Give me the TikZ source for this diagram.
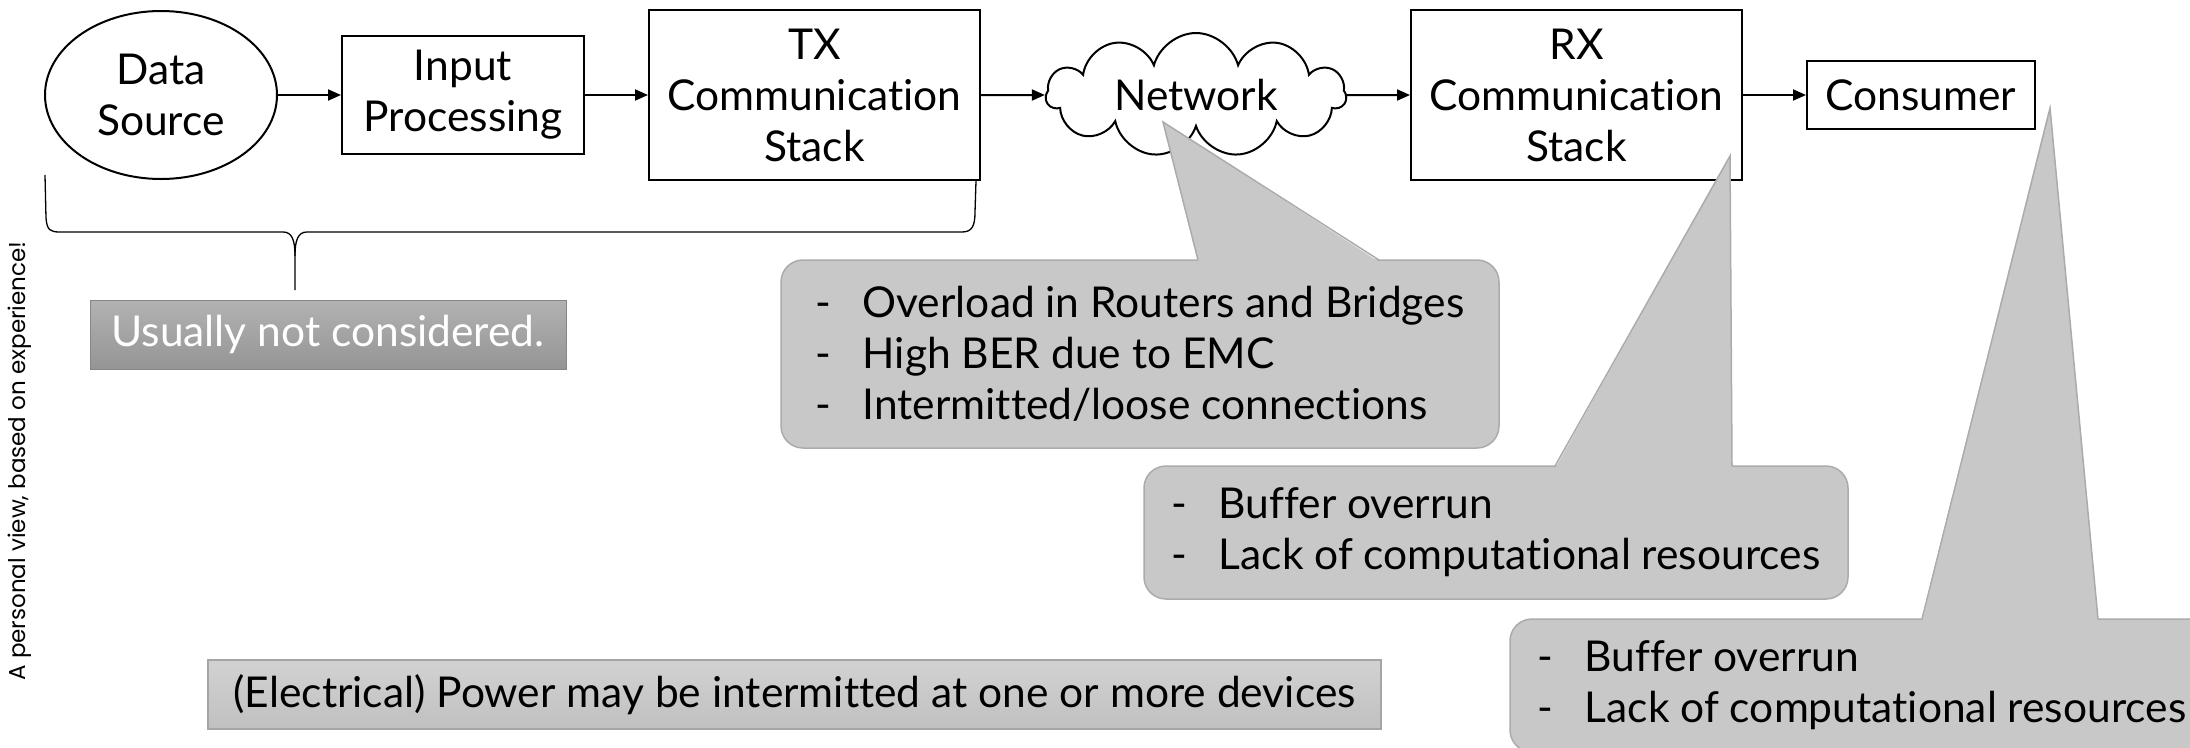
\documentclass[tikz,border=0pt]{standalone}
\usepackage{fontspec}
\setmainfont{Lato}[Ligatures={NoCommon}]
\newfontfamily\popfont{Poppins}
\usetikzlibrary{shapes.geometric,shapes.symbols,arrows.meta,calc}
\definecolor{callfill}{HTML}{C8C8C8}
\definecolor{callline}{HTML}{ABABAB}
\definecolor{ustop}{HTML}{B2B2B2}
\definecolor{usbot}{HTML}{959595}
\definecolor{pwtop}{HTML}{D2D2D2}
\definecolor{pwbot}{HTML}{C0C0C0}
\definecolor{pwline}{HTML}{A5A5A5}
\newcommand\itm{\makebox[47pt][l]{-}}
\tikzset{
  blk/.style={draw=black, line width=2, align=center, inner sep=0},
  arr/.style={line width=2, -{Triangle[length=13pt,width=11pt]}},
  callbox/.style={draw=callline, line width=1.5, fill=callfill, rounded corners=22, align=left, inner sep=0},
  ptrfill/.style={fill=callfill},
  ptrline/.style={draw=callline, line width=1.5},
}
\begin{document}
\begin{tikzpicture}[x=1pt,y=-1pt, font=\fontsize{42.5}{51}\selectfont]
\clip (0,0) rectangle (2190,747);
\fill[white] (0,0) rectangle (2190,747);

% main chain
\node[blk, ellipse, minimum width=232, minimum height=168] (ds) at (161,95) {Data\\Source};
\node[blk, rectangle, minimum width=242, minimum height=118] (ip) at (463,95) {Input\\Processing};
\node[blk, rectangle, minimum width=331, minimum height=170] (tx) at (814.5,95) {TX\\Communication\\Stack};
\node[blk, cloud, cloud puffs=11, aspect=3, minimum width=300, minimum height=99] (net) at (1196,95) {Network};
\node[blk, rectangle, minimum width=331, minimum height=170] (rx) at (1576.5,95) {RX\\Communication\\Stack};
\node[blk, rectangle, minimum width=228, minimum height=68] (con) at (1921,95) {Consumer};

\draw[arr] (ds) -- (ip);
\draw[arr] (ip) -- (tx);
\draw[arr] (tx) -- (net);
\draw[arr] (net) -- (rx);
\draw[arr] (rx) -- (con);

% brace
\draw[line width=1.3] (45,175) -- (46,218) .. controls (47,230) and (50,232) .. (60,232)
  -- (283,232) .. controls (292,232) and (295,240) .. (295,256) -- (295,290);
\draw[line width=1.3] (295,256) .. controls (295,240) and (298,232) .. (307,232)
  -- (962,232) .. controls (972,232) and (975,226) .. (975,212) -- (976,181);

\node[draw=usbot!90!black, line width=1, top color=ustop, bottom color=usbot, minimum width=476, minimum height=69, inner sep=0, text=white] (us) at (328,334.5) {Usually not considered.};

% callouts
\node[callbox, minimum width=718, minimum height=188] (c1) at (1140,354) {\itm Overload in Routers and Bridges\\\itm High BER due to EMC\\\itm Intermitted/loose connections};
\coordinate (t1) at (1163,122);
\fill[ptrfill] (1198.5,262.5) -- (t1) -- (1380,262.5) -- cycle;
\draw[ptrline] (1198,260) -- (t1) -- (1379,260);

\node[callbox, minimum width=704, minimum height=133] (c2) at (1496,532.5) {\itm Buffer overrun\\\itm Lack of computational resources};
\coordinate (t2) at (1730,156);
\fill[ptrfill] (1555,468.5) -- (t2) -- (1732,468.5) -- cycle;
\draw[ptrline] (1555,466) -- (t2) -- (1732,466);

\node[callbox, minimum width=704, minimum height=133] (c3) at (1862,685.5) {\itm Buffer overrun\\\itm Lack of computational resources};
\coordinate (t3) at (2050,108);
\fill[ptrfill] (1922,621.5) -- (t3) -- (2098,621.5) -- cycle;
\draw[ptrline] (1922,619) -- (t3) -- (2098,619);

% power box
\node[draw=pwline, line width=1.5, top color=pwtop, bottom color=pwbot, minimum width=1173, minimum height=69, inner sep=0] (pw) at (794.5,694.5) {(Electrical) Power may be intermitted at one or more devices};

% side note
\node[rotate=90, font=\popfont\fontsize{23}{26}\selectfont, inner sep=0] (note) at (20,461) {A personal view, based on experience!};
\end{tikzpicture}
\end{document}
